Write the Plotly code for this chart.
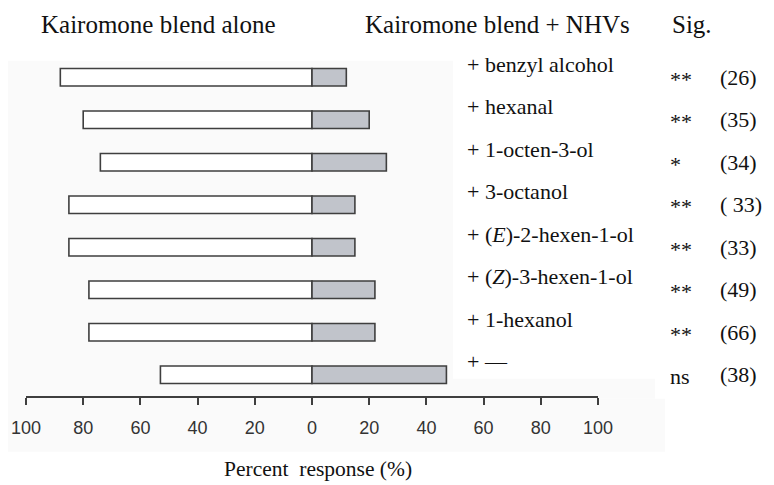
import plotly.graph_objects as go

# ---- data ----
compounds = ["+ benzyl alcohol", "+ hexanal", "+ 1-octen-3-ol", "+ 3-octanol",
             "+ (<i>E</i>)-2-hexen-1-ol", "+ (<i>Z</i>)-3-hexen-1-ol", "+ 1-hexanol", "+ \u2014"]
blend_alone = [88, 80, 74, 85, 85, 78, 78, 53]
blend_nhv = [12, 20, 26, 15, 15, 22, 22, 47]
significance = ["**", "**", "*", "**", "**", "**", "**", "ns"]
n_tested = ["(26)", "(35)", "(34)", "(\u00a033)", "(33)", "(49)", "(66)", "(38)"]
tick_vals = [-100, -80, -60, -40, -20, 0, 20, 40, 60, 80, 100]
tick_text = ["100", "80", "60", "40", "20", "0", "20", "40", "60", "80", "100"]

rows = list(range(len(compounds)))

SERIF = "Liberation Serif, Times New Roman, serif"
SANS = "Liberation Sans, Arial, sans-serif"
EDGE = "#3f3f3f"
TXT = "#111111"

fig = go.Figure()
fig.add_trace(go.Bar(
    y=rows, x=[-v for v in blend_alone], orientation="h",
    marker=dict(color="#ffffff", line=dict(color=EDGE, width=1.6)),
    width=0.41, showlegend=False, hoverinfo="skip"))
fig.add_trace(go.Bar(
    y=rows, x=blend_nhv, orientation="h",
    marker=dict(color="#c1c4cb", line=dict(color=EDGE, width=1.6)),
    width=0.41, showlegend=False, hoverinfo="skip"))

ann = []
for r, name, s, n in zip(rows, compounds, significance, n_tested):
    ann.append(dict(x=53.5, y=r, xref="x", yref="y", text=name, showarrow=False,
                    xanchor="left", yanchor="middle", yshift=13,
                    font=dict(family=SERIF, size=22, color=TXT)))
    ann.append(dict(x=1.1224, y=r, xref="paper", yref="y", text=s, showarrow=False,
                    xanchor="left", yanchor="middle", yshift=-2,
                    font=dict(family=SERIF, size=22, color=TXT)))
    ann.append(dict(x=1.2098, y=r, xref="paper", yref="y", text=n, showarrow=False,
                    xanchor="left", yanchor="middle",
                    font=dict(family=SERIF, size=22, color=TXT)))

ann += [
    dict(x=-53.8, y=1.092, xref="x", yref="paper", text="Kairomone blend alone",
         showarrow=False, xanchor="center", yanchor="middle",
         font=dict(family=SERIF, size=25, color=TXT)),
    dict(x=64.7, y=1.092, xref="x", yref="paper", text="Kairomone blend + NHVs",
         showarrow=False, xanchor="center", yanchor="middle",
         font=dict(family=SERIF, size=25, color=TXT)),
    dict(x=1.1259, y=1.092, xref="paper", yref="paper", text="Sig.",
         showarrow=False, xanchor="left", yanchor="middle",
         font=dict(family=SERIF, size=25, color=TXT)),
    dict(x=2.2, y=-0.214, xref="x", yref="paper", text="Percent\u00a0\u00a0response (%)",
         showarrow=False, xanchor="center", yanchor="middle",
         font=dict(family=SERIF, size=21.5, color=TXT)),
]

shapes = [
    dict(type="rect", xref="paper", yref="paper", x0=-0.04, x1=0.7465, y0=-0.164, y1=0.986,
         fillcolor="#fafafa", line=dict(width=0), layer="below"),
    dict(type="rect", xref="paper", yref="paper", x0=0.7465, x1=1.0997, y0=-0.0081, y1=0.0507,
         fillcolor="#fafafa", line=dict(width=0), layer="below"),
    dict(type="rect", xref="paper", yref="paper", x0=0.7465, x1=1.117, y0=-0.164, y1=-0.0081,
         fillcolor="#fafafa", line=dict(width=0), layer="below"),
]

# page body has an 8px margin, so the figure is 8px smaller and everything shifted by 8px
fig.update_layout(
    width=766, height=477,
    margin=dict(l=18, r=176, t=48, b=89, autoexpand=False),
    paper_bgcolor="#ffffff", plot_bgcolor="rgba(0,0,0,0)",
    barmode="relative",
    annotations=ann, shapes=shapes,
    xaxis=dict(range=[-100, 100], tickvals=tick_vals, ticktext=tick_text,
               automargin=False,
               showgrid=False, zeroline=False, showline=True, linecolor=EDGE, linewidth=1.5,
               ticks="outside", ticklen=7, tickwidth=1.5, tickcolor=EDGE,
               ticklabelstandoff=8,
               tickfont=dict(family=SANS, size=18, color="#333")),
    yaxis=dict(range=[len(compounds) - 0.5, -0.5], showgrid=False, zeroline=False,
               automargin=False,
               showline=False, showticklabels=False, ticks=""),
)

fig.write_html("out.html")
